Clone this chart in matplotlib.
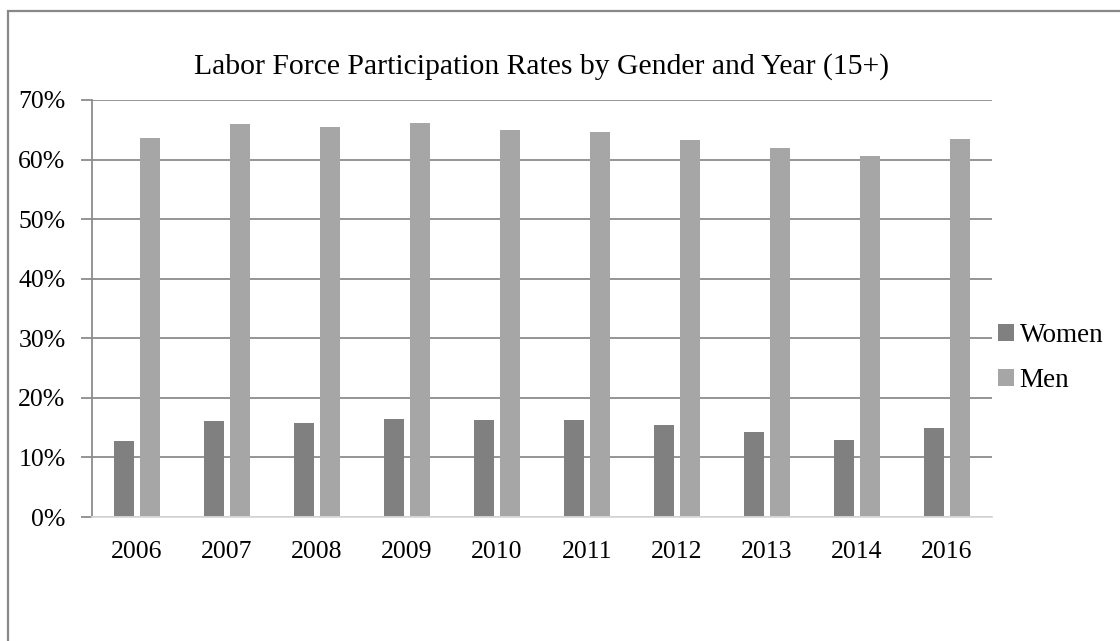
import matplotlib.pyplot as plt
import numpy as np
from matplotlib.patches import Rectangle
from matplotlib.ticker import PercentFormatter

years = ["2006", "2007", "2008", "2009", "2010", "2011", "2012", "2013", "2014", "2016"]
women = [0.127, 0.161, 0.158, 0.165, 0.163, 0.163, 0.155, 0.142, 0.129, 0.150]
men = [0.637, 0.659, 0.655, 0.662, 0.650, 0.646, 0.633, 0.619, 0.606, 0.634]

plt.rcParams['font.family'] = ['Liberation Serif', 'DejaVu Serif']

fig = plt.figure(figsize=(11.2, 6.41), dpi=100)
ax = fig.add_axes([92 / 1120, 1 - 517 / 641, 900 / 1120, 417 / 641])

x = np.arange(len(years))
w = 0.222
ax.bar(x - 0.143, women, w, color='#808080', label='Women', zorder=3)
ax.bar(x + 0.143, men, w, color='#a6a6a6', label='Men', zorder=3)

ax.set_xlim(-0.5, len(years) - 0.5)
ax.set_ylim(0, 0.7)
ax.set_yticks(np.arange(0, 0.71, 0.1))
ax.yaxis.set_major_formatter(PercentFormatter(xmax=1, decimals=0))
ax.set_xticks(x)
ax.set_xticklabels(years)
ax.grid(axis='y', color='#8c8c8c', linewidth=1.3, zorder=0)

for s in ['top', 'right']:
    ax.spines[s].set_visible(False)
ax.spines['left'].set_color('#8c8c8c')
ax.spines['left'].set_linewidth(1.3)
ax.spines['bottom'].set_color('#d9d9d9')
ax.spines['bottom'].set_linewidth(1.3)
ax.spines['bottom'].set_zorder(4)

ax.tick_params(axis='y', length=8, width=1.3, color='#8c8c8c', pad=11, labelsize=18.5)
ax.tick_params(axis='x', length=0, pad=17, labelsize=18.5)

ax.set_title("Labor Force Participation Rates by Gender and Year (15+)",
             fontsize=21.3, pad=19)

fig.legend(loc='center left', bbox_to_anchor=(998 / 1120, 1 - 358 / 641),
           frameon=False, fontsize=19.5, handlelength=0.6, handleheight=0.6,
           handletextpad=0.2, labelspacing=0.75, borderaxespad=0, borderpad=0)

# outer chart border
fig.patches.append(Rectangle((7.5 / 1120, -0.05), 1.1, 1 - 11 / 641 + 0.05,
                             transform=fig.transFigure, fill=False,
                             edgecolor='#888888', linewidth=1.6))

fig.savefig("out.png", dpi=100)
